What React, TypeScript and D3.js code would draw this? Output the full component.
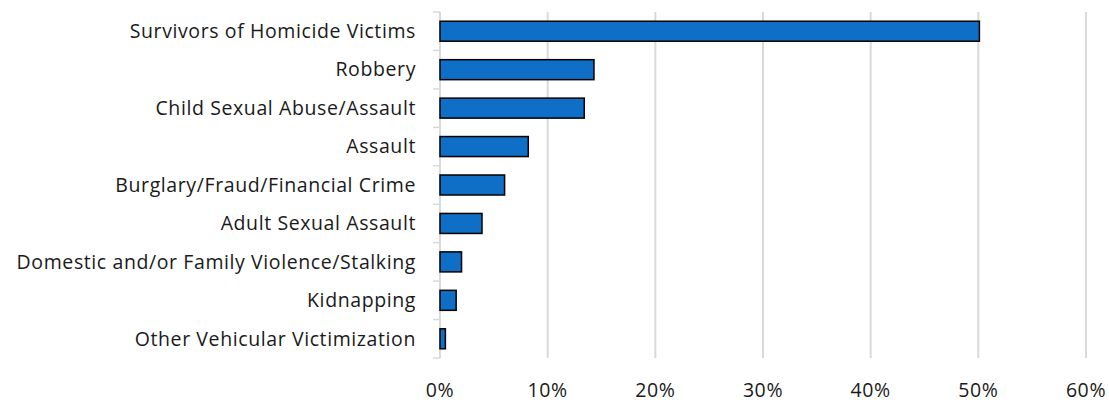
import React from "react";
import * as d3 from "d3";

const categories = [
  "Survivors of Homicide Victims",
  "Robbery",
  "Child Sexual Abuse/Assault",
  "Assault",
  "Burglary/Fraud/Financial Crime",
  "Adult Sexual Assault",
  "Domestic and/or Family Violence/Stalking",
  "Kidnapping",
  "Other Vehicular Victimization",
];
const values = [50.1, 14.3, 13.4, 8.2, 6.0, 3.9, 2.0, 1.5, 0.5];
const xTicks = [0, 10, 20, 30, 40, 50, 60];

const W = 1109;
const H = 402;
const left = 440;
const right = 1086;
const top = 12;
const bottom = 358;

export default function App() {
  const x = d3.scaleLinear().domain([0, 60]).range([left, right]);
  const y = d3
    .scaleBand<string>()
    .domain(categories)
    .range([top, bottom])
    .paddingInner(0.48)
    .paddingOuter(0.24);
  const outer = d3.scaleBand<string>().domain(categories).range([top, bottom]);
  const font = "'Open Sans', sans-serif";
  return (
    <svg
      width={W}
      height={H}
      style={{ position: "absolute", left: 0, top: 0, background: "#fff" }}
    >
      {xTicks.slice(1).map((t) => (
        <line
          key={t}
          x1={x(t)}
          x2={x(t)}
          y1={top}
          y2={bottom}
          stroke="#d9d9d9"
          strokeWidth={2}
        />
      ))}
      {categories.map((c) => (
        <line
          key={"t" + c}
          x1={left - 7}
          x2={left}
          y1={outer(c)!}
          y2={outer(c)!}
          stroke="#d9d9d9"
          strokeWidth={1.5}
        />
      ))}
      <line
        x1={left - 7}
        x2={left}
        y1={bottom}
        y2={bottom}
        stroke="#d9d9d9"
        strokeWidth={1.5}
      />
      <line x1={left} x2={left} y1={top} y2={bottom} stroke="#d9d9d9" strokeWidth={2} />
      {categories.map((c, i) => (
        <rect
          key={"b" + c}
          x={x(0)}
          y={y(c)!}
          width={x(values[i]) - x(0)}
          height={y.bandwidth()}
          fill="#0f6fc6"
          stroke="#000"
          strokeWidth={1.5}
        />
      ))}
      {categories.map((c) => (
        <text
          key={"l" + c}
          x={416}
          y={y(c)! + y.bandwidth() / 2}
          dy="0.35em"
          textAnchor="end"
          fontFamily={font}
          fontSize={19.5}
          letterSpacing={0.6}
          fill="#1a1a1a"
        >
          {c}
        </text>
      ))}
      {xTicks.map((t) => (
        <text
          key={"x" + t}
          x={x(t)}
          y={390}
          dy="0.35em"
          textAnchor="middle"
          fontFamily={font}
          fontSize={19.5}
          letterSpacing={0.6}
          fill="#1a1a1a"
        >
          {t}%
        </text>
      ))}
    </svg>
  );
}
